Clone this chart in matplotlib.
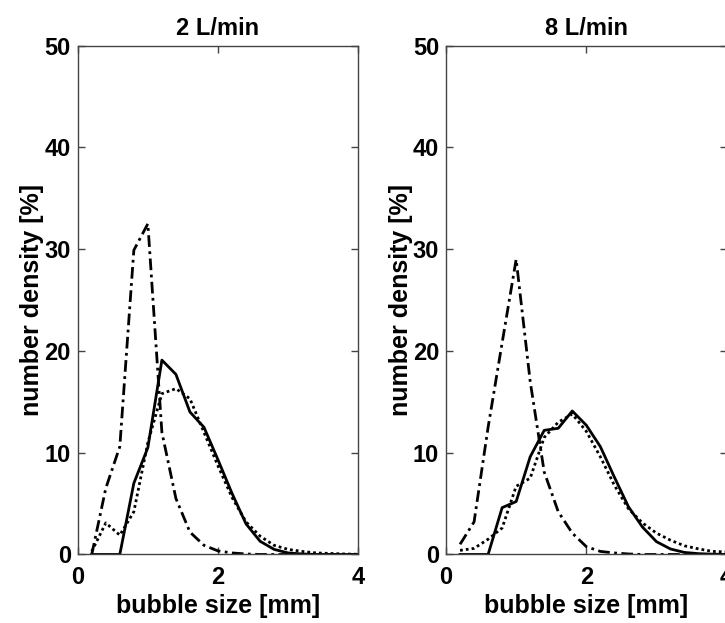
import numpy as np
import matplotlib
matplotlib.use('Agg')
import matplotlib.pyplot as plt

plt.rcParams['font.family'] = ['Liberation Sans', 'DejaVu Sans']
plt.rcParams['font.weight'] = 'bold'

# bubble size classes [mm]
size_mm = [0.2, 0.4, 0.6, 0.8, 1.0, 1.2, 1.4, 1.6, 1.8, 2.0,
           2.2, 2.4, 2.6, 2.8, 3.0, 3.2, 3.4, 3.6, 3.8, 4.0]

# 2 L/min, number density [%]
solid_2 = [0, 0, 0, 7.0, 10.5, 19.1, 17.7, 14.0, 12.5, 9.3,
           6.0, 3.0, 1.3, 0.5, 0.15, 0.05, 0, 0, 0, 0]
dotted_2 = [0.3, 3.1, 1.9, 4.2, 11.0, 15.8, 16.3, 15.3, 12.0, 8.7,
            5.6, 3.2, 1.8, 0.9, 0.5, 0.3, 0.15, 0.1, 0.05, 0.02]
dashdot_2 = [0, 6.5, 10.6, 29.9, 32.5, 12.0, 5.5, 2.2, 0.9, 0.35,
             0.15, 0.05, 0, 0, 0, 0, 0, 0, 0, 0]

# 8 L/min, number density [%]
solid_8 = [0, 0, 0, 4.6, 5.2, 9.6, 12.2, 12.4, 14.1, 12.7,
           10.6, 7.6, 4.7, 2.7, 1.26, 0.54, 0.2, 0.08, 0.03, 0]
dotted_8 = [0.4, 0.6, 1.5, 2.6, 6.7, 7.5, 11.5, 13.0, 13.8, 12.1,
            9.6, 6.8, 4.5, 3.1, 2.1, 1.4, 0.85, 0.55, 0.3, 0.25]
dashdot_8 = [1.0, 3.2, 12.5, 20.8, 29.0, 17.0, 8.1, 4.2, 2.1, 0.77,
             0.3, 0.15, 0.05, 0, 0, 0, 0, 0, 0, 0]

panels = [('2 L/min', solid_2, dotted_2, dashdot_2),
          ('8 L/min', solid_8, dotted_8, dashdot_8)]

fig = plt.figure(figsize=(7.25, 6.23), dpi=100)
lefts = [0.1072, 0.6152]

for left, (title, s, d, dd) in zip(lefts, panels):
    ax = fig.add_axes([left, 0.110, 0.387, 0.8167])
    ax.plot(size_mm, dd, color='black', lw=2.0, linestyle=(0, (4.2, 1.6, 1.0, 1.6)))
    ax.plot(size_mm, d, color='black', lw=2.0, linestyle=(0, (1, 1.1)))
    ax.plot(size_mm, s, color='black', lw=2.0, linestyle='-')
    ax.set_xlim(0, 4)
    ax.set_ylim(0, 50)
    ax.set_xticks([0, 2, 4])
    ax.set_yticks([0, 10, 20, 30, 40, 50])
    ax.tick_params(direction='in', length=5, width=1, top=True, right=True,
                   labelsize=17, color='#444444')
    ax.tick_params(axis='y', pad=5)
    ax.tick_params(axis='x', pad=8)
    for sp in ax.spines.values():
        sp.set_color('#444444')
        sp.set_linewidth(1.0)
    ax.set_title(title, fontsize=17, fontweight='bold', pad=8)
    ax.set_xlabel('bubble size [mm]', fontsize=18, fontweight='bold', labelpad=4)
    ax.set_ylabel('number density [%]', fontsize=18, fontweight='bold', labelpad=0)

fig.savefig('out.png', dpi=100)
